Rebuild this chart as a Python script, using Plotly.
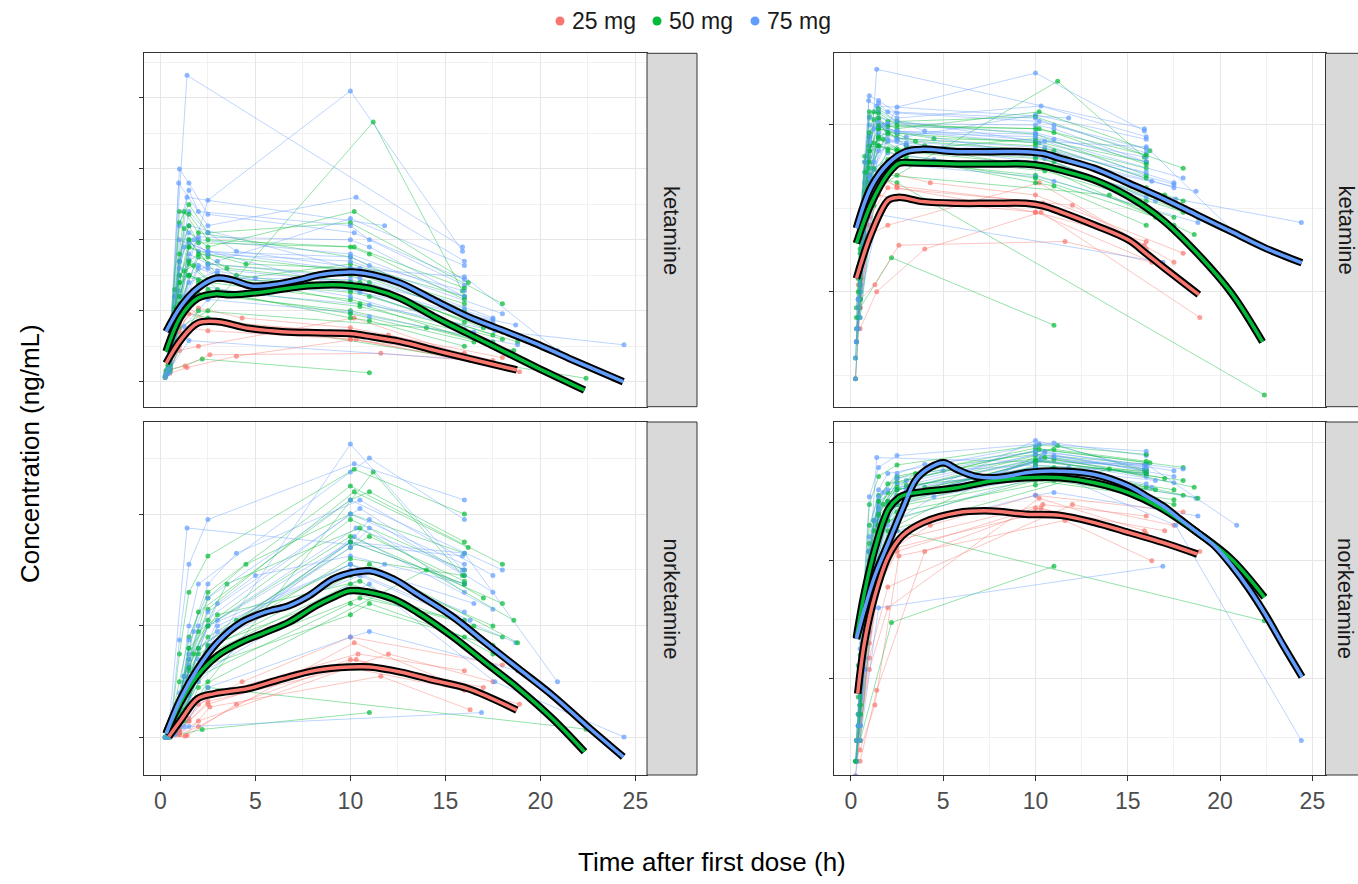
import plotly.graph_objects as go

# ---------------------------------------------------------------------------
# Individual subject profiles: sampling time (h), ketamine and norketamine (ng/mL)
# ---------------------------------------------------------------------------
red_time = [
    [0.5, 1.4, 4.0, 10.3, 18.9],
    [0.4, 1.0, 2.0, 10.2, 15.9],
    [0.5, 1.3, 2.6, 11.6, 16.3],
    [0.4, 1.0, 1.5, 2.5, 10.4, 16.0],
    [0.5, 1.0, 2.0, 4.3, 10.0, 18.0],
    [0.3, 1.0, 2.0, 12.0, 17.5],
    [0.5, 1.5, 2.5, 10.0, 16.0],
    [0.25, 0.5, 1.0, 1.5, 2.5, 10.0, 17.0],
]
red_ket = [
    [6, 10, 18, 30, 7],
    [7, 22, 25, 45, 19],
    [9, 11, 19, 20, 15],
    [11, 35, 48, 43, 34, 18],
    [14, 40, 52, 45, 38, 17],
    [5, 28, 42, 33, 15],
    [15, 52, 42, 30, 20],
    [3, 8, 25, 38, 36, 30, 14],
]
red_nor = [
    [0.2, 0.8, 12, 28, 12],
    [0.3, 1.2, 4, 34, 18],
    [0.25, 0.6, 11, 22, 10],
    [0.3, 2.5, 7, 15, 30, 24],
    [0.4, 3, 12, 20, 36, 26],
    [0.2, 1.5, 6, 30, 20],
    [0.5, 6, 13, 25, 17],
    [0.15, 0.3, 2, 6, 12, 28, 18],
]

green_time = [
    [0.5, 1.0, 2.5, 11.2, 15.9],
    [0.5, 2.2, 11.0],
    [0.5, 1.0, 2.5, 22.4],
    [0.3, 0.75, 1.25, 2.0, 10.0, 16.0],
    [0.5, 1.0, 1.5, 2.5, 10.0, 11.0, 16.0],
    [0.4, 1.0, 2.0, 4.0, 10.0, 17.5],
    [0.5, 1.25, 2.5, 10.2, 16.2],
    [0.3, 1.0, 1.5, 2.5, 10.0, 18.0],
    [0.5, 0.75, 1.5, 3.0, 10.5, 16.0],
    [0.4, 1.0, 2.0, 10.0, 11.0, 18.8],
    [0.5, 1.5, 2.5, 4.5, 10.0, 16.0],
    [0.3, 0.75, 1.25, 2.0, 10.0, 17.5],
    [0.5, 1.0, 2.5, 10.0, 11.0, 16.0],
    [0.4, 1.0, 1.5, 2.5, 10.0, 18.0],
    [0.5, 1.25, 2.0, 14.0, 18.6],
    [0.4, 0.75, 1.5, 2.5, 10.0, 16.0],
    [0.5, 1.0, 1.5, 3.0, 10.5, 17.5],
    [0.25, 0.5, 0.75, 1.0, 1.5, 2.0, 10.0, 16.0],
    [0.3, 0.6, 1.0, 1.5, 2.5, 3.5, 10.5, 17.0],
    [0.5, 1.0, 1.5, 2.0, 10.0, 11.0, 16.0],
    [0.25, 0.5, 1.0, 2.0, 3.0, 10.0, 16.5],
    [0.4, 0.75, 1.25, 1.75, 2.5, 10.0, 18.0],
    [0.5, 1.0, 1.5, 2.5, 10.2, 16.0],
]
green_ket = [
    [10, 38, 50, 183, 64],
    [8, 16, 6.3],
    [12, 50, 45, 2.4],
    [8, 60, 120, 105, 88, 50],
    [15, 70, 100, 83, 75, 70, 42],
    [9, 55, 88, 75, 65, 33],
    [20, 108, 95, 120, 70],
    [6, 45, 75, 70, 58, 30],
    [11, 40, 83, 65, 53, 35],
    [12, 75, 72, 63, 60, 28],
    [17, 95, 90, 83, 80, 55],
    [5, 28, 55, 62, 50, 28],
    [9, 50, 65, 45, 43, 25],
    [22, 112, 125, 105, 112, 55],
    [7, 33, 50, 38, 22],
    [14, 65, 75, 70, 83, 60],
    [10, 85, 100, 75, 55, 25],
    [4, 12, 35, 60, 85, 90, 78, 48],
    [7, 25, 70, 95, 88, 80, 70, 38],
    [18, 90, 110, 98, 95, 90, 58],
    [3, 9, 42, 70, 62, 48, 28],
    [10, 52, 78, 82, 72, 70, 35],
    [25, 120, 118, 100, 95, 66],
]
green_nor = [
    [0.5, 4, 20, 95, 58],
    [0.3, 3, 9],
    [0.4, 6, 18, 3.1],
    [0.3, 5, 22, 38, 78, 60],
    [0.8, 9, 24, 36, 68, 72, 56],
    [0.5, 7, 26, 42, 62, 40],
    [1.0, 22, 46, 88, 68],
    [0.2, 5, 16, 30, 55, 36],
    [0.6, 3, 17, 30, 50, 42],
    [0.5, 10, 30, 58, 62, 34],
    [1.1, 28, 50, 62, 80, 66],
    [0.2, 2, 10, 22, 48, 33],
    [0.5, 7, 26, 44, 48, 36],
    [1.3, 20, 36, 52, 90, 62],
    [0.3, 6, 18, 60, 42],
    [0.7, 6, 20, 33, 64, 58],
    [0.6, 12, 32, 44, 56, 30],
    [0.2, 0.6, 3, 8, 20, 32, 70, 55],
    [0.3, 1.5, 9, 25, 42, 55, 75, 50],
    [0.9, 14, 32, 45, 85, 88, 70],
    [0.2, 0.5, 6, 22, 34, 52, 40],
    [0.4, 5, 18, 30, 40, 72, 48],
    [1.6, 30, 52, 65, 96, 80],
]

blue_time = [
    [0.4, 1.4, 15.9],
    [0.5, 1.0, 2.5, 10.0, 15.9],
    [0.4, 1.4, 11.8],
    [0.5, 0.96, 2.5, 10.3, 16.0],
    [0.4, 1.0, 1.5, 3.0, 10.0, 16.0],
    [0.5, 1.0, 2.0, 10.0, 11.0, 16.0],
    [0.3, 0.75, 1.5, 2.5, 10.2, 17.5],
    [0.5, 1.0, 1.5, 2.5, 10.0, 16.3],
    [0.4, 1.25, 2.0, 3.0, 10.5, 18.7],
    [0.5, 1.0, 2.0, 4.5, 11.0, 17.6, 24.4],
    [0.4, 1.0, 1.5, 10.0, 16.0, 20.9],
    [0.3, 0.75, 1.25, 2.0, 10.0, 11.0, 16.0],
    [0.5, 1.0, 2.5, 10.0, 16.0],
    [0.4, 1.5, 3.0, 5.0, 10.0, 16.0],
    [0.5, 1.25, 2.5, 10.0, 11.0, 18.8],
    [0.5, 1.5, 16.9],
    [0.3, 0.5, 1.0, 1.5, 2.5, 10.5, 17.5],
    [0.25, 0.5, 0.75, 1.0, 1.5, 2.0, 10.0, 16.0],
    [0.3, 0.6, 1.0, 1.5, 2.5, 4.0, 10.5, 17.5],
    [0.5, 1.0, 1.5, 2.0, 10.0, 11.0, 16.0],
    [0.25, 0.5, 1.0, 2.0, 3.0, 10.0, 16.5],
    [0.4, 0.75, 1.25, 1.75, 2.5, 10.0, 18.0],
    [0.5, 1.0, 1.5, 2.5, 10.2, 16.0],
]
blue_ket = [
    [6, 216, 95],
    [9, 60, 128, 205, 92],
    [7, 130, 110],
    [11, 140, 110, 130, 85],
    [6, 45, 75, 85, 115, 82],
    [14, 75, 102, 100, 95, 60],
    [5, 28, 98, 92, 78, 42],
    [12, 64, 86, 80, 70, 46],
    [7, 54, 80, 75, 63, 40],
    [11, 48, 68, 62, 54, 36, 26],
    [8, 85, 110, 80, 74, 22],
    [5, 22, 60, 92, 88, 82, 64],
    [13, 100, 92, 66, 37],
    [9, 70, 78, 73, 72, 52],
    [7, 39, 58, 49, 46, 26],
    [9, 29, 15],
    [5, 14, 48, 90, 83, 73, 44],
    [4, 15, 45, 80, 105, 100, 90, 60],
    [6, 30, 85, 120, 105, 92, 80, 45],
    [20, 110, 135, 120, 110, 100, 68],
    [3, 10, 50, 82, 76, 60, 35],
    [9, 60, 95, 100, 90, 85, 48],
    [28, 150, 140, 118, 105, 72],
]
blue_nor = [
    [0.4, 75, 65],
    [0.6, 5, 30, 105, 60],
    [0.3, 20, 62],
    [0.8, 12, 40, 75, 60],
    [0.3, 4, 18, 42, 70, 55],
    [0.9, 8, 32, 68, 75, 52],
    [0.2, 1.5, 15, 32, 72, 46],
    [0.7, 7, 22, 33, 60, 42],
    [0.4, 8, 24, 38, 58, 34],
    [0.6, 5, 20, 35, 55, 20, 0.3],
    [0.4, 10, 30, 70, 66, 20],
    [0.2, 1.2, 8, 28, 70, 78, 58],
    [0.8, 12, 40, 62, 45],
    [0.5, 25, 48, 58, 65, 55],
    [0.4, 4, 18, 36, 38, 24],
    [0.3, 4, 9],
    [0.2, 1, 7, 26, 45, 82, 52],
    [0.2, 0.8, 4, 10, 28, 40, 80, 62],
    [0.3, 2, 12, 35, 55, 66, 85, 58],
    [1.2, 16, 40, 55, 95, 100, 78],
    [0.15, 0.4, 5, 24, 40, 62, 48],
    [0.4, 6, 22, 38, 50, 85, 60],
    [1.8, 35, 62, 78, 98, 85],
]

# ---------------------------------------------------------------------------
# Smoothed group curves (linear-scale fits and log-scale fits)
# ---------------------------------------------------------------------------
ket_lin_t_red = [0.3, 1.07, 1.96, 3.02, 4.62, 6.4, 8.18, 9.96, 10.85, 12.63, 14.4, 16.18, 18.76]
ket_lin_red = [13, 29.5, 41.3, 42.3, 37.7, 35.3, 34.5, 34, 32.3, 28.3, 22.3, 16.5, 8.3]
ket_lin_t_green = [0.3, 1.07, 1.96, 2.85, 3.74, 5.51, 7.29, 9.07, 10.14, 11.2, 12.63, 14.4, 16.18, 17.96, 19.74, 22.32]
ket_lin_green = [21.3, 45.9, 58.8, 61.9, 61.3, 63.5, 67, 68.3, 67.5, 65.3, 58.8, 45.9, 34, 22.3, 10.5, -5.9]
ket_lin_t_blue = [0.3, 1.07, 1.96, 2.93, 3.74, 4.8, 5.87, 7.29, 8.36, 9.43, 10.14, 11.2, 12.63, 14.4, 16.18, 17.96, 19.74, 21.5, 24.36]
ket_lin_blue = [35.3, 53, 65.9, 73, 71.8, 67.5, 68.3, 71.8, 75.3, 77, 77.3, 75.3, 69.5, 57.6, 45.9, 36.5, 27, 16.5, 0]

ket_log_t_red = [0.3, 1.11, 2.04, 2.6, 3.9, 5.76, 7.62, 9.47, 10.4, 11.33, 13.19, 15.05, 15.98, 16.9, 18.85]
ket_log_red = [12.0, 22.4, 35.5, 36.8, 34.7, 33.9, 33.9, 33.9, 32.7, 30.2, 25.1, 20.4, 17.0, 14.1, 9.6]
ket_log_t_green = [0.3, 1.11, 2.04, 2.6, 3.2, 5.76, 7.62, 9.47, 10.4, 11.33, 13.19, 15.05, 16.9, 18.76, 20.62, 22.3]
ket_log_green = [19.5, 33.9, 51.3, 58.9, 59.4, 58.3, 58.3, 58.3, 56.8, 53.7, 46.8, 37.2, 26.9, 17.0, 9.8, 5.0]
ket_log_t_blue = [0.3, 1.11, 2.04, 2.97, 3.9, 5.76, 7.62, 9.47, 10.4, 11.33, 13.19, 15.05, 16.9, 18.76, 20.62, 22.48, 24.43]
ket_log_blue = [24, 42.7, 58.9, 69.2, 71.4, 69.2, 69.2, 69.2, 67.6, 63.1, 54.9, 44.7, 36.3, 28.8, 22.9, 18.2, 14.9]

nor_lin_t_red = [0.44, 1.07, 1.96, 2.85, 4.62, 6.4, 8.18, 9.96, 11.03, 12.63, 14.4, 16.18, 18.76]
nor_lin_red = [0.4, 6.3, 14.0, 15.8, 17.6, 21.1, 24.1, 25.3, 25.3, 23.5, 20.5, 17.6, 9.9]
nor_lin_t_green = [0.3, 1.07, 1.96, 3.02, 4.27, 5.51, 6.76, 8.18, 9.07, 9.96, 10.85, 12.27, 13.52, 15.3, 17.07, 18.85, 20.63, 22.32]
nor_lin_green = [1.5, 12.8, 22.3, 29.4, 34.2, 37.7, 41.3, 47.2, 50.2, 52.6, 52.2, 49.6, 44.9, 36.6, 27.1, 17.6, 6.9, -5.0]
nor_lin_t_blue = [0.3, 1.07, 1.96, 3.02, 4.27, 5.51, 6.76, 7.82, 9.07, 10.14, 11.03, 12.27, 13.52, 15.3, 17.07, 18.85, 20.63, 22.41, 24.36]
nor_lin_blue = [1.5, 14.0, 24.7, 34.2, 41.3, 44.9, 47.2, 50.8, 56.7, 59.1, 59.7, 56.7, 51.4, 43.7, 34.2, 24.7, 15.2, 4.5, -6.8]

nor_log_t_red = [0.37, 0.74, 1.3, 2.04, 2.79, 3.9, 5.76, 7.62, 9.48, 11.34, 13.2, 15.05, 16.91, 18.77]
nor_log_red = [0.75, 2.05, 5.07, 11.0, 16.3, 21.1, 25.6, 26.5, 24.8, 24.3, 21.1, 17.4, 14.3, 11.4]
nor_log_t_green = [0.3, 0.74, 1.3, 2.04, 2.6, 3.0, 5.76, 7.62, 9.48, 11.34, 13.2, 15.05, 16.91, 18.77, 20.63, 22.4]
nor_log_green = [2.25, 5.41, 12.6, 27.4, 34.3, 36.6, 41.7, 47.5, 50.6, 50.6, 45.9, 37.8, 27.4, 17.4, 10.3, 4.91]
nor_log_t_blue = [0.3, 0.74, 1.3, 2.04, 2.79, 3.53, 4.27, 5.02, 5.76, 6.69, 7.62, 8.55, 9.48, 10.41, 11.34,
                  13.2, 15.05, 15.98, 16.91, 17.84, 18.77, 19.7, 20.63, 21.56, 22.49, 23.42, 24.44]
nor_log_blue = [2.18, 3.91, 7.48, 14.3, 27.4, 49.0, 61.5, 67.8, 59.5, 52.3, 50.6, 52.3, 55.8, 57.6, 57.6,
                54.0, 43.0, 35.5, 29.2, 22.5, 17.4, 13.4, 9.1, 5.8, 3.44, 1.92, 1.04]

doses = ["25 mg", "50 mg", "75 mg"]
analytes = ["ketamine", "norketamine"]

# ---------------------------------------------------------------------------
# Styling
# ---------------------------------------------------------------------------
W, H = 1358, 884
FONT = "Liberation Sans, Arial, sans-serif"
dose_rgb = {"25 mg": (248, 118, 109), "50 mg": (0, 186, 56), "75 mg": (97, 156, 255)}


def rgba(dose, a):
    r, g, b = dose_rgb[dose]
    return f"rgba({r},{g},{b},{a})"


def px_x(p):
    return p / W


def px_y(p):
    return 1 - p / H


# panel boxes in pixels (left, right) and (top, bottom)
col_px = [(143.5, 647.0), (833.7, 1325.5)]
row_px = [(53.3, 406.7), (422.0, 775.0)]
strip_w = 50

fig = go.Figure()

groups = [
    ("25 mg", red_time, red_ket, red_nor),
    ("50 mg", green_time, green_ket, green_nor),
    ("75 mg", blue_time, blue_ket, blue_nor),
]

# axis ids: top-left linear, top-right log, bottom-left linear, bottom-right log
panels_ket = [("x", "y"), ("x2", "y2")]
panels_nor = [("x3", "y3"), ("x4", "y4")]

n_max = max(len(g[1]) for g in groups)
for i in range(n_max):
    for dose, times, ket, nor in groups:
        if i >= len(times):
            continue
        for (xa, ya), vals in [(p, ket[i]) for p in panels_ket] + [(p, nor[i]) for p in panels_nor]:
            fig.add_trace(go.Scatter(
                x=times[i], y=vals, xaxis=xa, yaxis=ya,
                mode="lines+markers",
                line=dict(color=rgba(dose, 0.42), width=1),
                marker=dict(color=rgba(dose, 0.7), size=5),
                showlegend=False, hoverinfo="skip",
            ))

smooth = {
    ("x", "y"): [(ket_lin_t_red, ket_lin_red), (ket_lin_t_green, ket_lin_green), (ket_lin_t_blue, ket_lin_blue)],
    ("x2", "y2"): [(ket_log_t_red, ket_log_red), (ket_log_t_green, ket_log_green), (ket_log_t_blue, ket_log_blue)],
    ("x3", "y3"): [(nor_lin_t_red, nor_lin_red), (nor_lin_t_green, nor_lin_green), (nor_lin_t_blue, nor_lin_blue)],
    ("x4", "y4"): [(nor_log_t_red, nor_log_red), (nor_log_t_green, nor_log_green), (nor_log_t_blue, nor_log_blue)],
}
for (xa, ya), curves in smooth.items():
    for t, v in curves:
        fig.add_trace(go.Scatter(x=t, y=v, xaxis=xa, yaxis=ya, mode="lines",
                                 line=dict(color="black", width=7.5, shape="spline"),
                                 showlegend=False, hoverinfo="skip"))
    for dose, (t, v) in zip(doses, curves):
        fig.add_trace(go.Scatter(x=t, y=v, xaxis=xa, yaxis=ya, mode="lines",
                                 line=dict(color=rgba(dose, 1), width=3.5, shape="spline"),
                                 showlegend=False, hoverinfo="skip"))

GRID = "#E6E6E6"
MINOR_GRID = "#F1F1F1"
frame = dict(showline=True, mirror=True, linecolor="#333333", linewidth=1, zeroline=False,
             showgrid=True, gridcolor=GRID, gridwidth=1)


def x_axis(col, row):
    l, r = col_px[col]
    ax = dict(frame, domain=[px_x(l), px_x(r)],
              range=[-0.89, 25.61] if col == 0 else [-0.93, 25.71],
              tick0=0, dtick=5,
              minor=dict(dtick=2.5, showgrid=True, gridcolor=MINOR_GRID, gridwidth=0.7))
    if row == 1:
        ax.update(ticks="outside", ticklen=5, tickcolor="#333333", showticklabels=True,
                  tickfont=dict(family=FONT, size=23, color="#4D4D4D"))
    else:
        ax.update(ticks="", showticklabels=False)
    return ax


def y_axis(col, row, **extra):
    t, b = row_px[row]
    ax = dict(frame, domain=[px_y(b), px_y(t)], ticks="outside", ticklen=4,
              tickcolor="#333333", showticklabels=False)
    ax.update(extra)
    return ax


layout_axes = {
    "xaxis": x_axis(0, 0), "xaxis2": x_axis(1, 0),
    "xaxis3": x_axis(0, 1), "xaxis4": x_axis(1, 1),
    "yaxis": y_axis(0, 0, range=[-17.6, 231.5], tick0=0, dtick=50,
                    minor=dict(dtick=25, showgrid=True, gridcolor=MINOR_GRID, gridwidth=0.7)),
    "yaxis2": y_axis(1, 0, type="log", range=[0.31, 2.43], tickmode="array", tickvals=[1, 10, 100],
                     minor=dict(tickmode="array", tickvals=[3.162, 31.62, 316.2], showgrid=True,
                                gridcolor=MINOR_GRID, gridwidth=0.7)),
    "yaxis3": y_axis(0, 1, range=[-13.3, 112.9], tick0=0, dtick=40,
                     minor=dict(dtick=20, showgrid=True, gridcolor=MINOR_GRID, gridwidth=0.7)),
    "yaxis4": y_axis(1, 1, type="log", range=[-0.815, 2.177], tickmode="array", tickvals=[0.1, 1, 10, 100],
                     minor=dict(tickmode="array", tickvals=[0.3162, 3.162, 31.62], showgrid=True,
                                gridcolor=MINOR_GRID, gridwidth=0.7)),
}
for k, xa in (("xaxis", "y"), ("xaxis2", "y2"), ("xaxis3", "y3"), ("xaxis4", "y4")):
    layout_axes[k]["anchor"] = xa
for k, ya in (("yaxis", "x"), ("yaxis2", "x2"), ("yaxis3", "x3"), ("yaxis4", "x4")):
    layout_axes[k]["anchor"] = ya

shapes = []
annotations = []

# facet strips on the right of every panel
for c, (l, r) in enumerate(col_px):
    for rr, (t, b) in enumerate(row_px):
        shapes.append(dict(type="rect", xref="paper", yref="paper",
                           x0=px_x(r), x1=px_x(r + strip_w), y0=px_y(b), y1=px_y(t),
                           fillcolor="#D9D9D9", line=dict(color="#333333", width=1)))
        annotations.append(dict(xref="paper", yref="paper",
                                x=px_x(r + 24 if c == 0 else r + 20), y=px_y((t + b) / 2),
                                text=analytes[rr], textangle=90, showarrow=False,
                                font=dict(family=FONT, size=22, color="#1A1A1A"),
                                xanchor="center", yanchor="middle"))

# dose key along the top
key_x = [560, 657, 755]
for dose, cx in zip(doses, key_x):
    shapes.append(dict(type="circle", xref="paper", yref="paper",
                       x0=px_x(cx - 4.5), x1=px_x(cx + 4.5), y0=px_y(21 + 4.5), y1=px_y(21 - 4.5),
                       fillcolor=rgba(dose, 1), line=dict(width=0)))
    annotations.append(dict(xref="paper", yref="paper", x=px_x(cx + 10), y=px_y(21),
                            text=dose, showarrow=False, xanchor="left", yanchor="middle",
                            font=dict(family=FONT, size=23, color="#1A1A1A")))

# shared axis titles
annotations.append(dict(xref="paper", yref="paper", x=px_x(712), y=px_y(862),
                        text="Time after first dose (h)", showarrow=False,
                        xanchor="center", yanchor="middle",
                        font=dict(family=FONT, size=26, color="black")))
annotations.append(dict(xref="paper", yref="paper", x=px_x(30), y=px_y(454),
                        text="Concentration (ng/mL)", showarrow=False, textangle=-90,
                        xanchor="center", yanchor="middle",
                        font=dict(family=FONT, size=26, color="black")))

fig.update_layout(
    width=W, height=H,
    margin=dict(l=0, r=0, t=0, b=0),
    paper_bgcolor="white", plot_bgcolor="white",
    showlegend=False,
    shapes=shapes, annotations=annotations,
    font=dict(family=FONT),
    **layout_axes,
)

fig.write_html("out.html")
